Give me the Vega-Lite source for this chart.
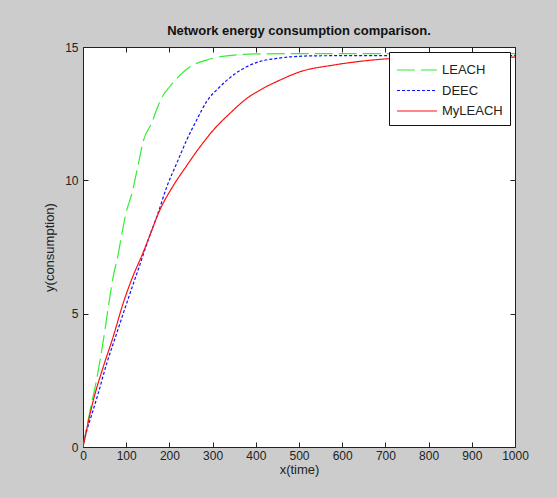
{
  "$schema": "https://vega.github.io/schema/vega-lite/v6.json",
  "width": 432,
  "height": 400,
  "autosize": {"type": "none"},
  "padding": {"left": 83, "top": 47, "right": 42, "bottom": 51},
  "background": "#cccccc",
  "title": {"text": "Network energy consumption comparison.", "font": "Liberation Sans", "fontSize": 13, "fontWeight": "bold", "color": "#111111", "anchor": "middle", "offset": 3},
  "config": {
    "view": {"stroke": "#222222", "strokeWidth": 1, "fill": "white"},
    "axis": {"labelFont": "Liberation Sans", "titleFont": "Liberation Sans", "labelFontSize": 12, "titleFontSize": 13, "titleFontWeight": "normal", "labelColor": "#222222", "titleColor": "#222222", "grid": false, "domain": false, "tickColor": "#222222", "tickSize": -5, "tickWidth": 1}
  },
  "data": {"values": [
    {"x": 0, "y": 0, "s": "LEACH"},
    {"x": 10, "y": 0.85, "s": "LEACH"},
    {"x": 20, "y": 1.65, "s": "LEACH"},
    {"x": 30, "y": 2.4, "s": "LEACH"},
    {"x": 40, "y": 3.3, "s": "LEACH"},
    {"x": 50, "y": 4.3, "s": "LEACH"},
    {"x": 60, "y": 5.4, "s": "LEACH"},
    {"x": 70, "y": 6.4, "s": "LEACH"},
    {"x": 80, "y": 7.1, "s": "LEACH"},
    {"x": 90, "y": 8.0, "s": "LEACH"},
    {"x": 100, "y": 8.8, "s": "LEACH"},
    {"x": 113, "y": 9.5, "s": "LEACH"},
    {"x": 128, "y": 10.6, "s": "LEACH"},
    {"x": 140, "y": 11.5, "s": "LEACH"},
    {"x": 159, "y": 12.15, "s": "LEACH"},
    {"x": 174, "y": 12.8, "s": "LEACH"},
    {"x": 186, "y": 13.2, "s": "LEACH"},
    {"x": 200, "y": 13.5, "s": "LEACH"},
    {"x": 217, "y": 13.82, "s": "LEACH"},
    {"x": 248, "y": 14.26, "s": "LEACH"},
    {"x": 286, "y": 14.51, "s": "LEACH"},
    {"x": 333, "y": 14.67, "s": "LEACH"},
    {"x": 402, "y": 14.74, "s": "LEACH"},
    {"x": 500, "y": 14.75, "s": "LEACH"},
    {"x": 1000, "y": 14.75, "s": "LEACH"},
    {"x": 0, "y": 0, "s": "DEEC"},
    {"x": 8.5, "y": 0.6, "s": "DEEC"},
    {"x": 20, "y": 1.2, "s": "DEEC"},
    {"x": 35, "y": 2.0, "s": "DEEC"},
    {"x": 55, "y": 3.14, "s": "DEEC"},
    {"x": 78, "y": 4.26, "s": "DEEC"},
    {"x": 93, "y": 5.0, "s": "DEEC"},
    {"x": 116, "y": 6.1, "s": "DEEC"},
    {"x": 132, "y": 6.85, "s": "DEEC"},
    {"x": 140, "y": 7.24, "s": "DEEC"},
    {"x": 155, "y": 7.95, "s": "DEEC"},
    {"x": 171, "y": 8.64, "s": "DEEC"},
    {"x": 194, "y": 9.76, "s": "DEEC"},
    {"x": 217, "y": 10.64, "s": "DEEC"},
    {"x": 240, "y": 11.51, "s": "DEEC"},
    {"x": 263, "y": 12.26, "s": "DEEC"},
    {"x": 286, "y": 12.95, "s": "DEEC"},
    {"x": 317, "y": 13.51, "s": "DEEC"},
    {"x": 348, "y": 13.95, "s": "DEEC"},
    {"x": 379, "y": 14.26, "s": "DEEC"},
    {"x": 410, "y": 14.46, "s": "DEEC"},
    {"x": 448, "y": 14.57, "s": "DEEC"},
    {"x": 480, "y": 14.63, "s": "DEEC"},
    {"x": 541, "y": 14.67, "s": "DEEC"},
    {"x": 700, "y": 14.68, "s": "DEEC"},
    {"x": 1000, "y": 14.68, "s": "DEEC"},
    {"x": 0, "y": 0, "s": "MyLEACH"},
    {"x": 24, "y": 1.76, "s": "MyLEACH"},
    {"x": 47, "y": 3.01, "s": "MyLEACH"},
    {"x": 70, "y": 4.14, "s": "MyLEACH"},
    {"x": 93, "y": 5.39, "s": "MyLEACH"},
    {"x": 116, "y": 6.42, "s": "MyLEACH"},
    {"x": 136, "y": 7.17, "s": "MyLEACH"},
    {"x": 151, "y": 7.78, "s": "MyLEACH"},
    {"x": 178, "y": 8.89, "s": "MyLEACH"},
    {"x": 209, "y": 9.8, "s": "MyLEACH"},
    {"x": 240, "y": 10.55, "s": "MyLEACH"},
    {"x": 271, "y": 11.26, "s": "MyLEACH"},
    {"x": 302, "y": 11.89, "s": "MyLEACH"},
    {"x": 340, "y": 12.51, "s": "MyLEACH"},
    {"x": 379, "y": 13.07, "s": "MyLEACH"},
    {"x": 417, "y": 13.45, "s": "MyLEACH"},
    {"x": 456, "y": 13.76, "s": "MyLEACH"},
    {"x": 502, "y": 14.07, "s": "MyLEACH"},
    {"x": 579, "y": 14.32, "s": "MyLEACH"},
    {"x": 657, "y": 14.49, "s": "MyLEACH"},
    {"x": 718, "y": 14.57, "s": "MyLEACH"},
    {"x": 800, "y": 14.6, "s": "MyLEACH"},
    {"x": 1000, "y": 14.62, "s": "MyLEACH"}
  ]},
  "layer": [
    {
      "mark": {"type": "line", "strokeWidth": 1.2, "clip": true, "interpolate": "monotone"},
      "encoding": {
        "x": {"field": "x", "type": "quantitative", "scale": {"domain": [0, 1000], "nice": false}, "axis": {"title": "x(time)", "format": "d", "values": [0,100,200,300,400,500,600,700,800,900,1000], "labelPadding": 8, "titlePadding": 2, "labelFlush": false}},
        "y": {"field": "y", "type": "quantitative", "scale": {"domain": [0, 15], "nice": false}, "axis": {"title": "y(consumption)", "values": [0,5,10,15], "labelPadding": 10, "titlePadding": 8}},
        "color": {"field": "s", "type": "nominal", "sort": ["LEACH", "DEEC", "MyLEACH"], "scale": {"domain": ["LEACH", "DEEC", "MyLEACH"], "range": ["#33ee33", "#1010ff", "#ff1010"]}, "legend": {"title": null, "orient": "top-right", "offset": 5, "fillColor": "white", "strokeColor": "#111111", "padding": 7, "rowPadding": 2.5, "symbolType": "M-1,0H3", "symbolSize": 400, "symbolStrokeWidth": 1.2, "labelFont": "Liberation Sans", "labelFontSize": 13, "labelColor": "#222222", "labelOffset": 24}},
        "strokeDash": {"field": "s", "type": "nominal", "sort": ["LEACH", "DEEC", "MyLEACH"], "scale": {"domain": ["LEACH", "DEEC", "MyLEACH"], "range": [[18, 6], [3, 2], [1, 0]]}, "legend": {"title": null}},
        "order": {"field": "x", "type": "quantitative"}
      }
    },
    {
      "mark": {"type": "point", "opacity": 0},
      "encoding": {
        "x": {"field": "x", "type": "quantitative", "axis": {"orient": "top", "labels": false, "title": null, "values": [0,100,200,300,400,500,600,700,800,900,1000]}},
        "y": {"field": "y", "type": "quantitative", "axis": {"orient": "right", "labels": false, "title": null, "values": [0,5,10,15]}}
      }
    }
  ],
  "resolve": {"axis": {"x": "independent", "y": "independent"}}
}
